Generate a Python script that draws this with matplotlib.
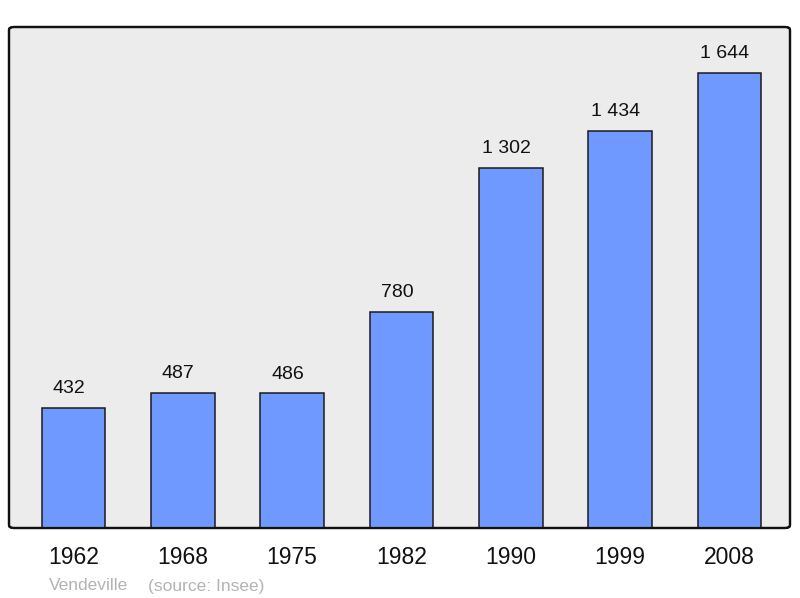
import matplotlib
matplotlib.use("Agg")
import matplotlib.pyplot as plt
from matplotlib.patches import FancyBboxPatch

plt.rcParams['font.family'] = ['Liberation Sans', 'DejaVu Sans']

# Population data (Insee)
years = ['1962', '1968', '1975', '1982', '1990', '1999', '2008']
population = [432, 487, 486, 780, 1302, 1434, 1644]
labels = ['432', '487', '486', '780', '1 302', '1 434', '1 644']
town = 'Vendeville'
source = '(source: Insee)'

fig = plt.figure(figsize=(8, 5.98), dpi=100)
ax = fig.add_axes([9 / 800, 70 / 598, 781 / 800, 501 / 598])
ax.set_facecolor('none')
for s in ax.spines.values():
    s.set_visible(False)

# rounded background frame
frame = FancyBboxPatch((0, 0), 1, 1, boxstyle='round,pad=0,rounding_size=0.006',
                       transform=ax.transAxes, facecolor='#ececec',
                       edgecolor='#111111', linewidth=1.6, zorder=0, clip_on=False)
ax.add_patch(frame)
frame_top = FancyBboxPatch((0, 0), 1, 1, boxstyle='round,pad=0,rounding_size=0.006',
                           transform=ax.transAxes, facecolor='none',
                           edgecolor='#111111', linewidth=1.6, zorder=3, clip_on=False)
ax.add_patch(frame_top)

x = range(len(years))
ax.bar(x, population, width=0.58, color='#7099ff', edgecolor='#1a1a1a',
       linewidth=1.1, zorder=2)

for i, (v, lab) in enumerate(zip(population, labels)):
    ax.annotate(lab, (i, v), xytext=(-3.3, 14), textcoords='offset points',
                ha='center', va='center', fontsize=14, color='#111111')

ax.set_xlim(-0.59, 6.553)
ax.set_ylim(0, 1810)
ax.set_yticks([])
ax.set_xticks(list(x))
ax.set_xticklabels(years, fontsize=16.5, color='#111111')
ax.tick_params(axis='x', length=0, pad=13)

fig.text(49 / 800, 1 - 586 / 598, town, fontsize=12.5, color='#b3b3b3',
         ha='left', va='center')
fig.text(148 / 800, 1 - 586 / 598, source, fontsize=12.5, color='#b3b3b3',
         ha='left', va='center')

fig.savefig('out.png', dpi=100)
